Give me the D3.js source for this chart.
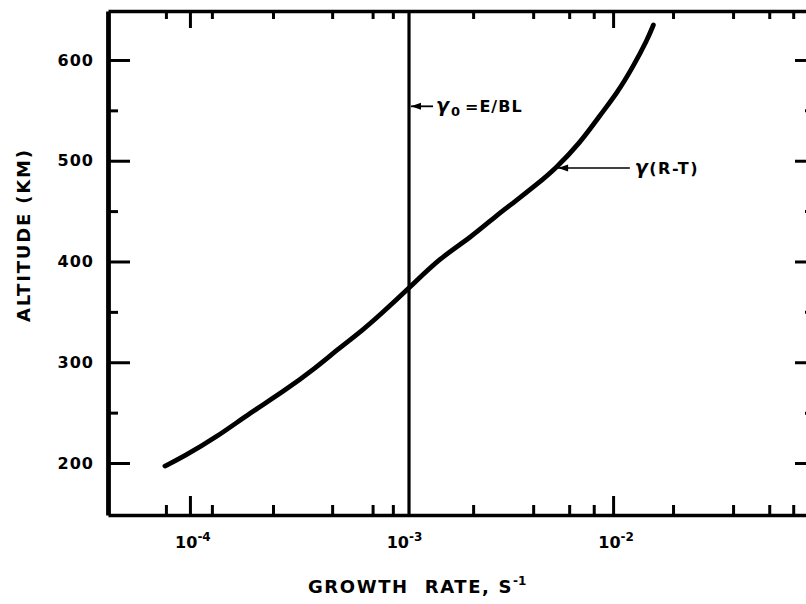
<!DOCTYPE html>
<html><head><meta charset="utf-8">
<script src="https://cdn.jsdelivr.net/npm/d3@7"></script>
<style>body{margin:0;background:#fff}svg{display:block}</style>
</head><body><svg id="c" width="806" height="604"></svg>
<script>
// ---- data ----
const growthRate = [7.62e-5, 9.27e-5, 1.34e-4, 1.92e-4, 2.75e-4, 3.98e-4, 4.95e-4, 6.57e-4, 7.91e-4,
  1.10e-3, 1.52e-3, 2.11e-3, 2.83e-3, 3.37e-3, 4.38e-3, 5.32e-3, 6.98e-3, 8.69e-3, 1.045e-2, 1.24e-2, 1.45e-2, 1.55e-2];
const altitudeKm = [197, 206, 225.8, 249.6, 270.5, 295.3, 312.2, 332, 346.9,
  374.7, 403.5, 423.3, 446.2, 458.1, 476.9, 491.8, 517.6, 545.4, 567.2, 593, 619.9, 634.7];
const gamma0 = 1.085e-3;              // vertical line  γ0 = E/BL
const xMajorTicks = [1e-4, 1e-2];     // 10^-3 tick hidden under the γ0 line
const xLabelValues = [1e-4, 1e-3, 1e-2];
const xLabelExps = ["-4", "-3", "-2"];
const xMinorTicks = [7.7e-5, 1.27e-4, 2.47e-4, 4.7e-4, 7.3e-4, 9.1e-4, 2.18e-3, 4.19e-3, 6.2e-3, 8.1e-3,
  1.92e-2, 3.69e-2, 5.47e-2, 7.1e-2];
const yMajorTicks = [200, 300, 400, 500, 600];
const yMinorTicks = [250, 350, 450, 550];
const xDomain = [4.1e-5, 0.09];
const yDomain = [148.4, 648.6];
const gamma0LabelAlt = 554;
const rtArrowGrowth = 5.32e-3, rtArrowAlt = 492.8, rtArrowTail = 1.2e-2;

// ---- drawing ----
const svg = d3.select("#c");
const L = 108, R = 815, T = 11, B = 515;
const x = d3.scaleLog().domain(xDomain).range([L, R]);
const y = d3.scaleLinear().domain(yDomain).range([B, T]);
const font = "'DejaVu Sans', Verdana, sans-serif";

function styleAxis(g, w) {
  g.selectAll(".domain").attr("stroke", "#000").attr("stroke-width", w);
  g.selectAll(".tick line").attr("stroke", "#000").attr("stroke-width", 3);
}
// bottom
svg.append("g").attr("transform", `translate(0,${B})`)
  .call(d3.axisBottom(x).tickValues(xMinorTicks).tickSize(-10).tickSizeOuter(0).tickFormat(""))
  .call(g => { g.select(".domain").remove(); styleAxis(g, 3); });
svg.append("g").attr("transform", `translate(0,${B})`)
  .call(d3.axisBottom(x).tickValues(xMajorTicks).tickSize(-19).tickSizeOuter(0).tickFormat(""))
  .call(g => styleAxis(g, 3.4));
// top
svg.append("g").attr("transform", `translate(0,${T})`)
  .call(d3.axisTop(x).tickValues(xMinorTicks).tickSize(-8).tickSizeOuter(0).tickFormat(""))
  .call(g => { g.select(".domain").remove(); styleAxis(g, 3); });
svg.append("g").attr("transform", `translate(0,${T})`)
  .call(d3.axisTop(x).tickValues(xMajorTicks).tickSize(-17).tickSizeOuter(0).tickFormat(""))
  .call(g => styleAxis(g, 3.4));
// left
svg.append("g").attr("transform", `translate(${L},0)`)
  .call(d3.axisLeft(y).tickValues(yMinorTicks).tickSize(-10).tickSizeOuter(0).tickFormat(""))
  .call(g => { g.select(".domain").remove(); styleAxis(g, 4.5); });
svg.append("g").attr("transform", `translate(${L},0)`)
  .call(d3.axisLeft(y).tickValues(yMajorTicks).tickSize(-22).tickSizeOuter(0).tickPadding(14))
  .call(g => {
    styleAxis(g, 4.8);
    g.selectAll("text").attr("font-family", font).attr("font-weight", "bold")
      .attr("font-size", 16).attr("letter-spacing", 1).attr("fill", "#000");
  });
// right
svg.append("g").attr("transform", `translate(${R},0)`)
  .call(d3.axisRight(y).tickValues(yMinorTicks).tickSize(-10).tickSizeOuter(0).tickFormat(""))
  .call(g => { g.select(".domain").remove(); styleAxis(g, 3); });
svg.append("g").attr("transform", `translate(${R},0)`)
  .call(d3.axisRight(y).tickValues(yMajorTicks).tickSize(-20).tickSizeOuter(0).tickFormat(""))
  .call(g => styleAxis(g, 3.4));

// x tick labels 10^n
const xl = svg.append("g").selectAll("text").data(xLabelValues).join("text")
  .attr("x", d => x(d) + 3).attr("y", 548).attr("text-anchor", "middle")
  .attr("font-family", font).attr("font-weight", "bold").attr("font-size", 16).attr("fill", "#000");
xl.append("tspan").text("10");
xl.append("tspan").attr("dy", -7).attr("font-size", 12).text((d, i) => xLabelExps[i]);

// vertical γ0 line
svg.append("line").attr("x1", x(gamma0)).attr("x2", x(gamma0)).attr("y1", T).attr("y2", B)
  .attr("stroke", "#000").attr("stroke-width", 3.2);

// curve
svg.append("path")
  .datum(growthRate.map((g, i) => [g, altitudeKm[i]]))
  .attr("d", d3.line().x(d => x(d[0])).y(d => y(d[1])).curve(d3.curveBasis))
  .attr("fill", "none").attr("stroke", "#000").attr("stroke-width", 4.8).attr("stroke-linecap", "round");

// arrow marker
svg.append("defs").append("marker").attr("id", "ah").attr("viewBox", "0 0 10 8")
  .attr("refX", 0).attr("refY", 4).attr("markerWidth", 11).attr("markerHeight", 8)
  .attr("markerUnits", "userSpaceOnUse").attr("orient", "auto")
  .append("path").attr("d", "M0,4 L10,0.5 L10,7.5 Z").attr("fill", "#000");

// γ0 annotation
const ay = y(gamma0LabelAlt);
svg.append("line").attr("x1", x(gamma0) + 2).attr("x2", x(gamma0) + 24).attr("y1", ay).attr("y2", ay)
  .attr("stroke", "#000").attr("stroke-width", 1.8).attr("marker-start", "url(#ah)");
const t0 = svg.append("text").attr("x", x(gamma0) + 27).attr("y", ay + 6)
  .attr("font-family", font).attr("font-weight", "bold").attr("font-size", 16).attr("fill", "#000")
  .attr("letter-spacing", 1);
t0.append("tspan").attr("font-style", "italic").attr("font-size", 19).text("γ");
t0.append("tspan").attr("font-size", 13).attr("dy", 4).attr("dx", 1).text("0");
t0.append("tspan").attr("dy", -4).attr("dx", 4).text("=E/BL");

// γ(R-T) annotation
const by = y(rtArrowAlt);
svg.append("line").attr("x1", x(rtArrowGrowth) + 3).attr("x2", x(rtArrowTail)).attr("y1", by).attr("y2", by)
  .attr("stroke", "#000").attr("stroke-width", 1.5).attr("marker-start", "url(#ah)");
const t1 = svg.append("text").attr("x", x(rtArrowTail) + 5).attr("y", by + 6)
  .attr("font-family", font).attr("font-weight", "bold").attr("font-size", 16).attr("fill", "#000")
  .attr("letter-spacing", 1.5);
t1.append("tspan").attr("font-style", "italic").attr("font-size", 19).text("γ");
t1.append("tspan").text("(R-T)");

// axis titles
svg.append("text").attr("transform", "translate(30,236) rotate(-90)").attr("text-anchor", "middle")
  .attr("font-family", font).attr("font-weight", "bold").attr("font-size", 18).attr("fill", "#000")
  .attr("textLength", 172).attr("lengthAdjust", "spacing").text("ALTITUDE (KM)");
const xt = svg.append("text").attr("x", 308).attr("y", 593)
  .attr("font-family", font).attr("font-weight", "bold").attr("font-size", 18).attr("fill", "#000");
xt.append("tspan").attr("letter-spacing", 1.6).text("GROWTH");
xt.append("tspan").attr("dx", 16).attr("letter-spacing", 1.6).text("RATE, S");
xt.append("tspan").attr("dy", -8).attr("font-size", 12).text("-1");
</script></body></html>
